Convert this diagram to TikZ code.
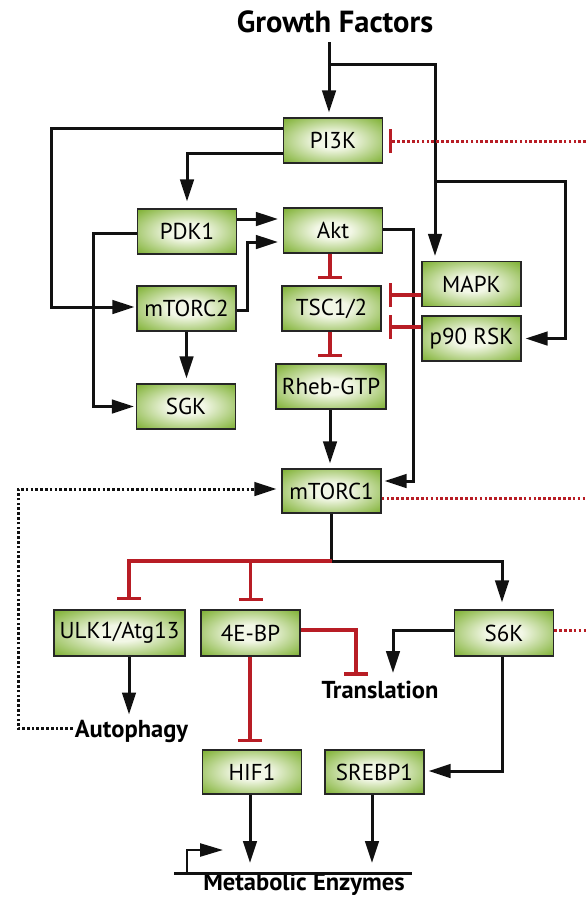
\documentclass[tikz,border=0pt]{standalone}
\usepackage{fontspec}
\setmainfont{PT Sans}
\usetikzlibrary{arrows.meta,shadows}
\definecolor{gedge}{HTML}{7AAE2C}
\definecolor{gctr}{HTML}{F2F7E6}
\definecolor{inhred}{HTML}{B81D25}
\definecolor{lk}{HTML}{111111}
\pgfdeclareradialshading{boxglow}{\pgfpoint{0bp}{0bp}}{color(0bp)=(gctr); color(9bp)=(gctr); color(36bp)=(gedge); color(50bp)=(gedge)}
\begin{document}
\begin{tikzpicture}[x=1pt,y=-1pt,
  box/.style={draw=black!85, line width=1.2pt, shading=boxglow, minimum width=99pt, minimum height=45pt, inner sep=0pt, font=\fontsize{23}{23}\selectfont, drop shadow={opacity=0.25,shadow xshift=0.8pt,shadow yshift=-0.8pt,fill=black!60}},
  conn/.style={draw=lk, line width=3pt},
  arr/.style={conn, -{Triangle[length=22pt,width=13.5pt]}},
  inh/.style={draw=inhred, line width=3.2pt, -{Bar[width=24pt,line width=3.3pt]}},
  dotk/.style={draw=lk, line width=3pt, dash pattern=on 2.7pt off 2.1pt},
  dotr/.style={draw=inhred, line width=3pt, dash pattern=on 2.7pt off 2.2pt},
  lbl/.style={font=\bfseries\fontsize{24.5}{24.5}\selectfont, inner sep=2pt}
]
\useasboundingbox (0,0) rectangle (586,897);

% text labels
\node[font=\bfseries\fontsize{30.5}{30.5}\selectfont, anchor=base, inner sep=0pt] (gf) at (335,32.5) {Growth Factors};
\node[lbl, anchor=base] (trans) at (380,698) {Translation};
\node[lbl, anchor=base] (auto) at (131.5,737) {Autophagy};
\node[lbl, anchor=base] (meta) at (304,890.5) {Metabolic Enzymes};

% boxes
\node[box] (pi3k) at (333,140.5) {PI3K};
\node[box] (pdk1) at (187,231.5) {PDK1};
\node[box] (akt) at (333,230.5) {Akt};
\node[box] (mapk) at (471.5,284) {MAPK};
\node[box] (tsc) at (331.5,308.5) {TSC1/2};
\node[box] (mtorc2) at (186.5,308.5) {mTORC2};
\node[box] (p90) at (471.5,338.5) {p90 RSK};
\node[box] (sgk) at (186,406.5) {SGK};
\node[box, minimum width=110pt] (rheb) at (331,386.5) {Rheb-GTP};
\node[box, minimum height=44pt] (mtorc1) at (331.5,491) {mTORC1};
\node[box, minimum width=131pt, minimum height=46pt] (ulk) at (119.5,633) {ULK1/Atg13};
\node[box, minimum height=46pt] (ebp) at (250.5,633) {4E-BP};
\node[box, minimum height=46pt] (s6k) at (504,633) {S6K};
\node[box, minimum height=44pt] (hif) at (252,772) {HIF1};
\node[box, minimum height=44pt] (srebp) at (374.5,772) {SREBP1};

% coordinates
\coordinate (gtop) at (329,42);
\coordinate (j1) at (329,64);
\coordinate (j2) at (435,64);
\coordinate (j3) at (435,181);
\coordinate (j4) at (565,181);
\coordinate (rp) at (586,141);
\coordinate (dl) at (18,0);
\coordinate (m1) at (331.5,561);
\coordinate (tbar) at (356,675.5);
\coordinate (tarr) at (393,673);
\coordinate (bl) at (174,873);
\coordinate (br) at (412,873);
\coordinate (gs) at (187,873);
\coordinate (e1) at ([yshift=3pt]ebp.east);

% top part
\draw[arr, shorten >=5pt] (gtop) -- (gtop |- pi3k.north);
\draw[arr, shorten >=5pt] (j1) -- (j2) -- (j2 |- mapk.north);
\draw[arr, shorten >=4pt] (j3) -- (j4) |- (p90.east);
\draw[arr, shorten >=2pt] ([yshift=12.5pt]pi3k.west) -- ++(-231,0) |- ([yshift=1.5pt]mtorc2.west);
\draw[arr, shorten >=7pt] ([yshift=-12.5pt]pi3k.west) -| (pdk1.north);
\draw[arr, shorten >=5pt] ([yshift=12.5pt]pdk1.east) -- ([yshift=12.5pt]pdk1.east -| akt.west);
\draw[arr, shorten >=5pt] ([yshift=-1.5pt]mtorc2.east) -- ++(11,0) |- ([yshift=-11.5pt]akt.west);
\draw[arr, shorten >=2pt] ([yshift=-1.5pt]pdk1.west) -- ++(-43.5,0) |- (sgk.west);
\draw[arr, shorten >=3pt] ([yshift=1.5pt]akt.east) -- ++(30,0) |- ([yshift=10pt]mtorc1.east);
\draw[inh, shorten >=6pt] ([xshift=-3pt]akt.south) -- ([xshift=-3pt]akt.south |- tsc.north);
\draw[inh, shorten >=7pt] ([yshift=-11pt]mapk.west) -- ([yshift=-11pt]mapk.west -| tsc.east);
\draw[inh, shorten >=7pt] ([yshift=11.5pt]p90.west) -- ([yshift=11.5pt]p90.west -| tsc.east);
\draw[arr, shorten >=5pt] (mtorc2.south) -- (mtorc2.south |- sgk.north);
\draw[inh, shorten >=6pt] ([xshift=-1.5pt]tsc.south) -- ([xshift=-1.5pt]tsc.south |- rheb.north);
\draw[arr, shorten >=5pt] ([xshift=-1pt]rheb.south) -- ([xshift=-1pt]rheb.south |- mtorc1.north);
\draw[dotr, -{Bar[width=24pt,line width=3.3pt]}, shorten >=6pt] (rp) -- (rp -| pi3k.east);
\draw[dotr] ([yshift=-7pt]mtorc1.east) -- ++(205,0);

% mTORC1 outputs
\draw[arr, shorten >=7pt] (mtorc1.south) -- (m1) -| ([xshift=-2pt]s6k.north);
\draw[inh, shorten >=9pt] (m1) -| ([xshift=9.5pt]ulk.north);
\draw[inh, shorten >=8pt] (m1 -| ebp.north) -- (ebp.north);
\draw[dotr] ([yshift=3pt]s6k.east) -- ++(35,0);

% lower part
\draw[inh] (e1) -- (e1 -| tbar) -- (tbar);
\draw[arr] ([yshift=3pt]s6k.west) -| (tarr);
\draw[arr] ([xshift=9.5pt]ulk.south) -- ++(0,58);
\draw[dotk, -{Triangle[length=22pt,width=13.5pt]}, shorten >=5pt] ([yshift=2pt]auto.west) -- ([yshift=2pt]auto.west -| dl) |- ([yshift=2pt]mtorc1.west);
\draw[inh, shorten >=7pt] ([xshift=-0.5pt]ebp.south) -- ([xshift=-0.5pt]ebp.south |- hif.north);
\draw[arr, shorten >=4pt] ([xshift=-2pt]s6k.south) |- ([yshift=1pt]srebp.east);
\draw[conn] (bl) -- (br);
\draw[arr, shorten >=10pt] ([xshift=-2pt]hif.south) -- ([xshift=-2pt]hif.south |- bl);
\draw[arr, shorten >=10pt] ([xshift=-2.5pt]srebp.south) -- ([xshift=-2.5pt]srebp.south |- bl);
\draw[conn, line width=2.4pt, -{Triangle[length=23pt,width=13pt]}] (gs) -- ++(0,-23) -- ++(36,0);
\end{tikzpicture}
\end{document}
